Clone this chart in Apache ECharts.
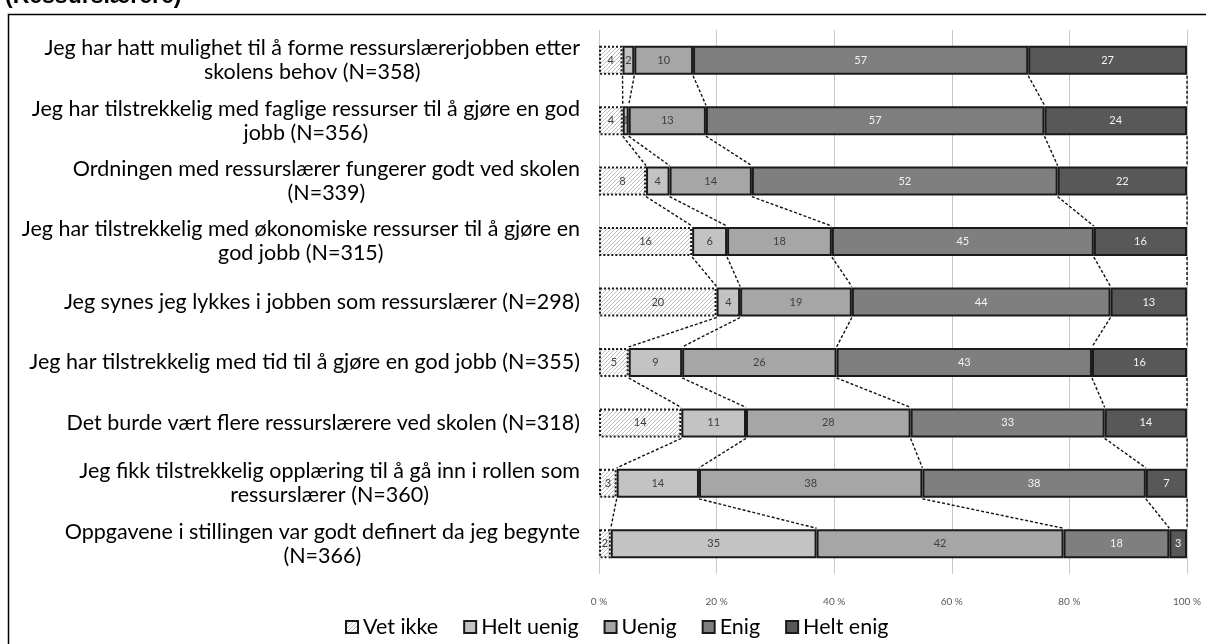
<!DOCTYPE html>
<html>
<head>
<meta charset="utf-8">
<script src="https://cdn.jsdelivr.net/npm/echarts@6/dist/echarts.min.js"></script>
<style>
  html, body { margin: 0; padding: 0; background: #fff; }
  #chart { width: 1206px; height: 644px; }
</style>
</head>
<body>
<div id="chart"></div>
<script>
const categories = [
  'Jeg har hatt mulighet til å forme ressurslærerjobben etter\nskolens behov (N=358)',
  'Jeg har tilstrekkelig med faglige ressurser til å gjøre en god\njobb (N=356)',
  'Ordningen med ressurslærer fungerer godt ved skolen\n(N=339)',
  'Jeg har tilstrekkelig med økonomiske ressurser til å gjøre en\ngod jobb (N=315)',
  'Jeg synes jeg lykkes i jobben som ressurslærer (N=298)',
  'Jeg har tilstrekkelig med tid til å gjøre en god jobb (N=355)',
  'Det burde vært flere ressurslærere ved skolen (N=318)',
  'Jeg fikk tilstrekkelig opplæring til å gå inn i rollen som\nressurslærer (N=360)',
  'Oppgavene i stillingen var godt definert da jeg begynte\n(N=366)'
];
const seriesNames = ['Vet ikke', 'Helt uenig', 'Uenig', 'Enig', 'Helt enig'];
const vetIkke   = [4, 4, 8, 16, 20, 5, 14, 3, 2];
const heltUenig = [2, 1, 4, 6, 4, 9, 11, 14, 35];
const uenig     = [10, 13, 14, 18, 19, 26, 28, 38, 42];
const enig      = [57, 57, 52, 45, 44, 43, 33, 38, 18];
const heltEnig  = [27, 24, 22, 16, 13, 16, 14, 7, 3];
const xTicks = [0, 20, 40, 60, 80, 100];

const rawValues = [vetIkke, heltUenig, uenig, enig, heltEnig];
const totals = categories.map((_, i) => rawValues.reduce((s, a) => s + a[i], 0));
const shares = rawValues.map(a => a.map((v, i) => v / totals[i] * 100));
const cumulative = categories.map((_, i) => {
  let c = 0;
  return shares.map(a => (c += a[i]));
});

// label size: widest line should span about as much as in the original
const FONT = 'Lato';
const measure = document.createElement('canvas').getContext('2d');
measure.font = '100px ' + FONT;
const refWidth = measure.measureText('Jeg har tilstrekkelig med økonomiske ressurser til å gjøre en').width / 100;
const labelSize = Math.round(560 / refWidth * 2) / 2;

// hatch for "Vet ikke"
const hatch = document.createElement('canvas');
hatch.width = 4; hatch.height = 4;
const hctx = hatch.getContext('2d');
hctx.fillStyle = '#ffffff';
hctx.fillRect(0, 0, 4, 4);
hctx.strokeStyle = '#bdbdbd';
hctx.lineWidth = 1;
hctx.beginPath();
hctx.moveTo(-1, 5); hctx.lineTo(5, -1);
hctx.stroke();

const fills = [{ image: hatch, repeat: 'repeat' }, '#c3c3c3', '#a6a6a6', '#7f7f7f', '#585858'];
const labelColors = ['#404040', '#404040', '#404040', '#f2f2f2', '#f2f2f2'];
const barW = 29;

const myChart = echarts.init(document.querySelector('#chart'));

const barSeries = seriesNames.map((name, k) => ({
  name,
  type: 'bar',
  stack: 'total',
  barWidth: barW,
  data: shares[k],
  itemStyle: {
    color: fills[k],
    borderColor: '#1a1a1a',
    borderWidth: 2,
    borderType: k === 0 ? 'dotted' : 'solid'
  },
  label: {
    show: true,
    position: 'inside',
    fontFamily: FONT,
    fontSize: 11,
    color: labelColors[k],
    formatter: p => rawValues[k][p.dataIndex]
  },
  emphasis: { disabled: true }
}));

const connectors = {
  type: 'custom',
  silent: true,
  z: 1,
  data: categories.map((_, i) => [0, i]),
  encode: { x: 0, y: 1 },
  renderItem: (params, api) => {
    const i = params.dataIndex;
    if (i >= categories.length - 1) return null;
    const half = barW / 2 + 1;
    return {
      type: 'group',
      children: cumulative[i].map((c, k) => {
        const p1 = api.coord([c, i]);
        const p2 = api.coord([cumulative[i + 1][k], i + 1]);
        return {
          type: 'line',
          shape: { x1: p1[0], y1: p1[1] + half, x2: p2[0], y2: p2[1] - half },
          style: { stroke: '#111', lineWidth: 1.4, lineDash: [3, 2] }
        };
      })
    };
  }
};

myChart.setOption({
  animation: false,
  title: {
    text: '(Ressurslærere)',
    left: 0,
    top: -20,
    textStyle: { fontFamily: 'Liberation Sans', fontWeight: 'bold', fontSize: 23, color: '#000' }
  },
  graphic: [{
    type: 'rect',
    shape: { x: 8.5, y: 14.5, width: 1300, height: 700 },
    style: { fill: 'none', stroke: '#000', lineWidth: 1.5 },
    silent: true
  }],
  legend: {
    data: seriesNames,
    bottom: 1,
    left: 340,
    icon: 'rect',
    itemWidth: 12,
    itemHeight: 12,
    itemGap: 25,
    textStyle: { fontFamily: FONT, fontSize: labelSize, color: '#000' }
  },
  grid: { left: 599, right: 19, top: 30, bottom: 70 },
  xAxis: {
    type: 'value',
    min: 0,
    max: 100,
    interval: 20,
    axisLine: { show: false },
    axisTick: { show: false },
    splitLine: { lineStyle: { color: '#c8c8c8', width: 1 } },
    axisLabel: {
      margin: 23,
      fontFamily: FONT,
      fontSize: 10,
      color: '#595959',
      formatter: v => xTicks.includes(v) ? v + ' %' : ''
    }
  },
  yAxis: {
    type: 'category',
    inverse: true,
    data: categories,
    axisLine: { show: false },
    axisTick: { show: false },
    axisLabel: {
      margin: 19,
      align: 'right',
      lineHeight: 24,
      fontFamily: FONT,
      fontSize: labelSize,
      color: '#000',
      formatter: v => v.split('\n').map(s => '{c|' + s + '}').join('\n'),
      rich: { c: { align: 'center', fontFamily: FONT, fontSize: labelSize, lineHeight: 24, color: '#000' } }
    }
  },
  series: [...barSeries, connectors]
});
</script>
</body>
</html>
